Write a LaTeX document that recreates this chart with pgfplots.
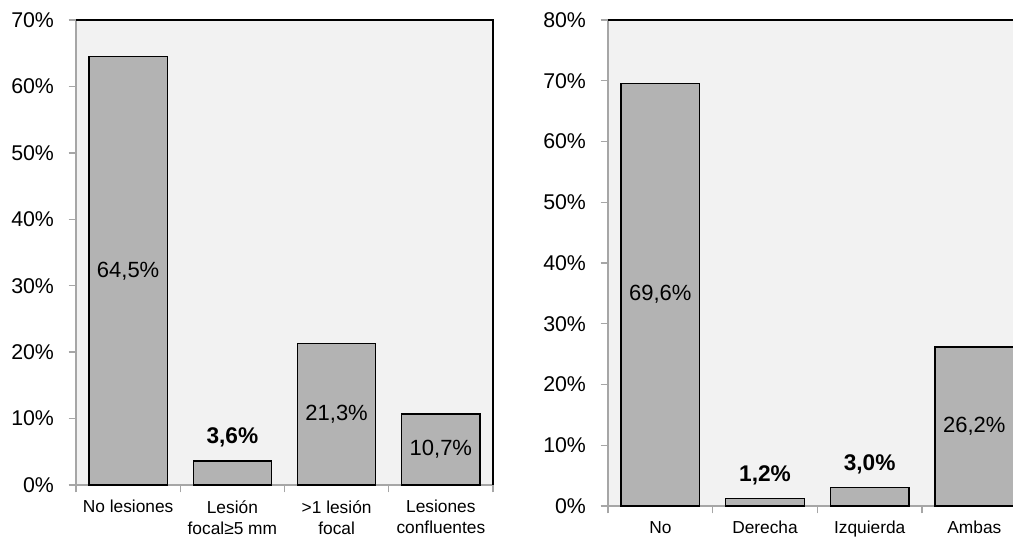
\documentclass[border=0pt]{standalone}
\usepackage{fontspec}
\setmainfont{Liberation Sans}
\usepackage{pgfplots}
\pgfplotsset{compat=1.18}
\usepackage{pgfplotstable}

\definecolor{plotbg}{HTML}{F2F2F2}
\definecolor{barfill}{HTML}{B3B3B3}
\definecolor{axisgray}{HTML}{A6A6A6}

% Tipo de lesión
\pgfplotstableread{
x v
0 64.5
1 3.6
2 21.3
3 10.7
}\lesiones

% Lateralidad
\pgfplotstableread{
x v
0 69.6
1 1.2
2 3.0
3 26.2
}\lateralidad

\pgfplotsset{
  panel/.style={
    scale only axis,
    anchor=south west,
    xmin=-0.5, xmax=3.5, ymin=0,
    axis background/.style={fill=plotbg},
    axis x line*=bottom, axis y line*=left,
    axis line style={draw=axisgray, line width=1.4pt},
    tick align=outside,
    major tick length=5.5pt,
    /pgf/number format/assume math mode=true,
    xtick={0,1,2,3},
    x tick style={draw=none},
    extra x ticks={-0.5,0.5,1.5,2.5,3.5},
    extra x tick labels={},
    extra x tick style={x tick style={draw=axisgray, line width=1pt}},
    xticklabel style={font=\fontsize{13}{15.75}\selectfont, align=center, anchor=north, yshift=-2.5pt},
    ytick distance=10,
    y tick style={draw=axisgray, line width=1pt},
    yticklabel={\pgfmathprintnumber{\tick}\%},
    yticklabel style={font=\fontsize{16}{19}\selectfont, anchor=east, xshift=-7.5pt},
    clip=false,
  },
  bars/.style={ybar, bar width=0.75, fill=barfill, draw=black, line width=1pt},
  pct/.style={nodes near coords={\pgfmathprintnumber[fixed, fixed zerofill, precision=1, use comma]{\pgfplotspointmeta}\%},
    point meta=explicit},
  inside label/.style={draw=none, mark=none, pct,
    every node near coord/.append style={anchor=center, font=\fontsize{16.5}{19}\selectfont},
    y filter/.expression={y<2.5 ? nan : y}},
  above label/.style={draw=none, mark=none, pct,
    every node near coord/.append style={anchor=center, yshift=17.5pt, font=\bfseries\fontsize{17}{20}\selectfont},
    y filter/.expression={y>5 ? nan : y}},
}

\begin{document}
\begin{tikzpicture}

\begin{axis}[panel, at={(57pt,39.75pt)}, width=312.75pt, height=348.75pt, ymax=70,
  xticklabels={No lesiones, {Lesión\\focal≥5 mm}, {>1 lesión\\focal}, {Lesiones\\confluentes}}]
  \addplot[bars] table[x=x, y=v] {\lesiones};
  \addplot[inside label] table[x=x, y expr=\thisrow{v}/2, meta=v] {\lesiones};
  \addplot[above label] table[x=x, y=v, meta=v] {\lesiones};
  \draw[black, line width=1.3pt] (rel axis cs:0,1) -- (rel axis cs:1,1) -- (rel axis cs:1,0);
\end{axis}

\begin{axis}[panel, at={(456pt,24pt)}, width=314pt, height=364.5pt, ymax=80,
  xticklabels={No, Derecha, Izquierda, Ambas}]
  \addplot[bars] table[x=x, y=v] {\lateralidad};
  \addplot[inside label] table[x=x, y expr=\thisrow{v}/2, meta=v] {\lateralidad};
  \addplot[above label] table[x=x, y=v, meta=v] {\lateralidad};
  \draw[black, line width=1.3pt] (rel axis cs:0,1) -- (rel axis cs:1,1) -- (rel axis cs:1,0);
\end{axis}

\pgfresetboundingbox
\useasboundingbox (0pt,0pt) rectangle (759.75pt,403.5pt);
\end{tikzpicture}
\end{document}
